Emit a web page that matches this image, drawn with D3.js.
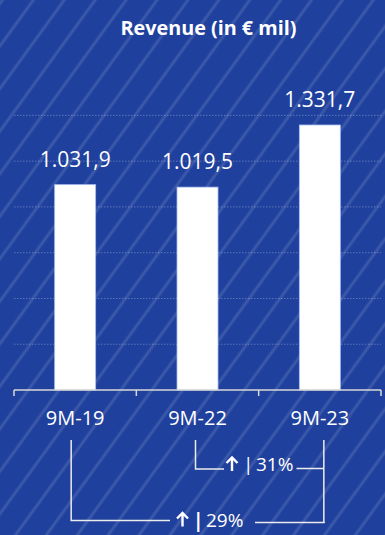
<!DOCTYPE html>
<html>
<head>
<meta charset="utf-8">
<script src="https://cdn.jsdelivr.net/npm/d3@7"></script>
<style>
  html, body { margin: 0; padding: 0; background: #1f3f9b; }
  svg { display: block; }
  text { font-family: "Open Sans", "Noto Sans", sans-serif; fill: #ffffff; }
</style>
</head>
<body>
<script>
// Revenue for the first nine months of each year, in € million
const categories = ["9M-19", "9M-22", "9M-23"];
const revenue = [1031.9, 1019.5, 1331.7];
const valueLabels = ["1.031,9", "1.019,5", "1.331,7"];
const gridValues = [230, 460, 690, 920, 1150, 1380];
const title = "Revenue (in € mil)";
// Growth brackets: from one period to another
const growth = [
  { from: "9M-22", to: "9M-23", label: "31%" },
  { from: "9M-19", to: "9M-23", label: "29%" }
];

const W = 385, H = 535;
const svg = d3.select("body").append("svg").attr("width", W).attr("height", H);

// Striped blue backdrop
const defs = svg.append("defs");
defs.append("filter").attr("id", "soft").append("feGaussianBlur").attr("stdDeviation", 0.8);
const pat = defs.append("pattern")
  .attr("id", "stripes").attr("patternUnits", "userSpaceOnUse")
  .attr("width", 25).attr("height", 25)
  .attr("patternTransform", "rotate(36)");
pat.append("rect").attr("width", 25).attr("height", 25).attr("fill", "#1f409d");
pat.append("rect").attr("x", 0).attr("width", 4).attr("height", 25).attr("fill", "#ffffff").attr("opacity", 0.06);
pat.append("rect").attr("x", 1).attr("width", 2).attr("height", 25).attr("fill", "#ffffff").attr("opacity", 0.07);
svg.append("rect").attr("width", W).attr("height", H).attr("fill", "url(#stripes)");

const x = d3.scaleBand().domain(categories).range([14, 381]).paddingInner(0.665).paddingOuter(0.3325);
const y = d3.scaleLinear().domain([0, 1400]).range([390, 390 - 1400 * 0.199]);
const cx = c => x(c) + x.bandwidth() / 2;

// Title
svg.append("text").attr("x", 208.5).attr("y", 35).attr("text-anchor", "middle")
  .attr("font-size", 19.8).attr("font-weight", 700).text(title);

// Dotted gridlines
svg.append("g").selectAll("line").data(gridValues).join("line")
  .attr("x1", 14).attr("x2", 381)
  .attr("y1", d => y(d)).attr("y2", d => y(d))
  .attr("stroke", "#ffffff").attr("stroke-opacity", 0.28)
  .attr("stroke-width", 1).attr("stroke-dasharray", "1.5,1.5");

// Bars
const data = categories.map((c, i) => ({ c, v: revenue[i], label: valueLabels[i] }));
svg.append("g").selectAll("rect").data(data).join("rect")
  .attr("x", d => x(d.c)).attr("width", x.bandwidth())
  .attr("y", d => y(d.v)).attr("height", d => y(0) - y(d.v))
  .attr("fill", "#ffffff").attr("stroke", "#a9bdf0").attr("stroke-width", 0.8);

// Value labels
svg.append("g").selectAll("text").data(data).join("text")
  .attr("x", d => cx(d.c)).attr("y", d => y(d.v) - 17.7)
  .attr("text-anchor", "middle").attr("font-size", 21).text(d => d.label);

// Category axis with ticks between bands
const axis = d3.axisBottom(x).tickSize(0).tickPadding(0).tickFormat("");
const ax = svg.append("g").attr("transform", `translate(0,${y(0)})`).call(axis);
ax.select(".domain").remove();
svg.append("line").attr("x1", 14).attr("x2", 381).attr("y1", y(0)).attr("y2", y(0))
  .attr("stroke", "#d9d9d9").attr("stroke-width", 1.5);
const bounds = categories.map(c => x(c) - x.step() * x.paddingInner() / 2);
bounds[0] = 14; bounds.push(381);
svg.append("g").selectAll("line").data(bounds).join("line")
  .attr("x1", d => d).attr("x2", d => d).attr("y1", y(0)).attr("y2", y(0) + 6)
  .attr("stroke", "#d9d9d9").attr("stroke-width", 1.5);
svg.append("g").selectAll("text").data(categories).join("text")
  .attr("x", d => cx(d)).attr("y", 425).attr("text-anchor", "middle")
  .attr("font-size", 20).text(d => d);

// Growth brackets
const br = svg.append("g").attr("stroke", "#ececec").attr("stroke-width", 1.5).attr("fill", "none");
const g31 = growth[0], g29 = growth[1];
const x31a = cx(g31.from) - 2, x31b = cx(g31.to) + 4;
const x29a = cx(g29.from) - 4, x29b = cx(g29.to) + 5;

br.append("path").attr("d", `M${x31a},440 V469 H224`);
br.append("path").attr("d", `M296.5,468.5 H${x31b} M${x31b},440 V522.5`);
br.append("path").attr("d", `M${x29a},440 V520.5 H170`);
br.append("path").attr("d", `M255,522.5 H${x29b}`);

// Up arrows drawn as small glyph paths
function upArrow(g, ax, baseY, h) {
  g.append("path")
    .attr("d", `M${ax},${baseY} V${baseY - h + 1} M${ax - 5.5},${baseY - h + 6} L${ax},${baseY - h + 0.5} L${ax + 5.5},${baseY - h + 6}`)
    .attr("stroke", "#ffffff").attr("stroke-width", 2.4).attr("fill", "none")
    .attr("stroke-linejoin", "miter").attr("stroke-linecap", "butt");
}
const ann = svg.append("g");
upArrow(ann, 232, 471, 14);
ann.append("text").attr("x", 243).attr("y", 471).attr("font-size", 19).attr("font-weight", 400).text("|");
ann.append("text").attr("x", 256).attr("y", 471).attr("font-size", 19).text(g31.label);

upArrow(ann, 182.5, 526.5, 14);
ann.append("text").attr("x", 193).attr("y", 526.5).attr("font-size", 19).attr("font-weight", 700).text("|");
ann.append("text").attr("x", 206).attr("y", 526.5).attr("font-size", 19).text(g29.label);
</script>
</body>
</html>
